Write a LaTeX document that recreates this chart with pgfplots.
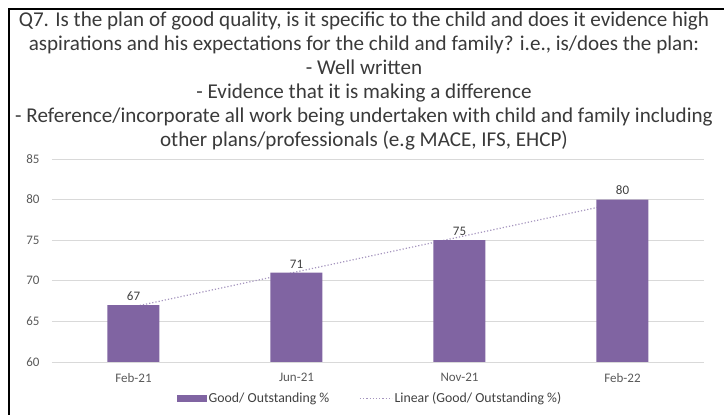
\documentclass[border=0pt]{standalone}
\usepackage{fontspec}
\setmainfont{Carlito}
\usepackage{pgfplots}
\pgfplotsset{compat=1.18}

\definecolor{barpurple}{HTML}{8064A2}
\definecolor{trendlilac}{HTML}{A595BE}
\definecolor{ticktext}{HTML}{595959}
\definecolor{labeltext}{HTML}{404040}
\definecolor{titletext}{HTML}{3A3A3A}
\definecolor{gridgray}{HTML}{D9D9D9}

\begin{document}
\begin{tikzpicture}
\useasboundingbox (-52pt,-53pt) rectangle (672pt,362pt);
% frame lines (left and top)
\draw[black, line width=2pt] (-42.5pt,-53pt) -- (-42.5pt,353pt) -- (672pt,353pt);
% title, one node per line on its baseline
\begin{scope}[every node/.style={anchor=base, text=titletext, inner sep=0pt,
    font=\fontsize{21.1}{24}\selectfont}]
\node at (312pt,335pt) {Q7. Is the plan of good quality, is it specific to the child and does it evidence high};
\node at (312pt,311pt) {aspirations and his expectations for the child and family? i.e., is/does the plan:};
\node at (312pt,287pt) {- Well written};
\node at (312pt,263pt) {- Evidence that it is making a difference};
\node at (312pt,239pt) {- Reference/incorporate all work being undertaken with child and family including};
\node at (312pt,215pt) {other plans/professionals (e.g MACE, IFS, EHCP)};
\end{scope}
\begin{axis}[
  at={(0,0)}, anchor=south west,
  scale only axis,
  width=652pt, height=203pt,
  xmin=-0.5, xmax=3.5,
  ymin=60, ymax=85,
  ytick={60,65,...,85},
  xtick={0,1,2,3},
  xticklabels={Feb-21, Jun-21, Nov-21, Feb-22},
  axis line style={draw=none},
  ymajorgrids=true,
  grid style={gridgray, line width=0.8pt},
  major tick length=0pt,
  tick style={draw=none},
  /pgf/number format/assume math mode=true,
  ticklabel style={font=\fontsize{13}{15}\selectfont, text=ticktext},
  yticklabel style={xshift=-9pt},
  xticklabel style={yshift=-8pt},
  clip=false,
  legend style={
    at={(0.4877,-0.18)}, anchor=center,
    draw=none, fill=none,
    legend columns=2,
    font=\fontsize{13.8}{16}\selectfont,
    text=labeltext,
    /tikz/every even column/.append style={column sep=28pt},
  },
]
\addplot[sharp plot, trendlilac, dotted, line width=1.2pt, forget plot]
  coordinates {(0,66.8) (1,71.1) (2,75.4) (3,79.7)};
\addplot[ybar, bar width=52pt, bar shift=0pt, fill=barpurple, draw=none,
  nodes near coords,
  every node near coord/.append style={font=\fontsize{13}{15}\selectfont, text=labeltext, yshift=1pt},
  legend image code/.code={\fill[barpurple] (0pt,-3.5pt) rectangle (30pt,3.5pt);}]
  coordinates {(0,67) (1,71) (2,75) (3,80)};
\addlegendentry{Good/ Outstanding \%}
\addlegendimage{trendlilac, dotted, line width=1.2pt,
  legend image code/.code={\draw[trendlilac, dotted, line width=1.2pt] (0pt,0pt) -- (32pt,0pt);}}
\addlegendentry{Linear (Good/ Outstanding \%)}
\end{axis}
\end{tikzpicture}
\end{document}
